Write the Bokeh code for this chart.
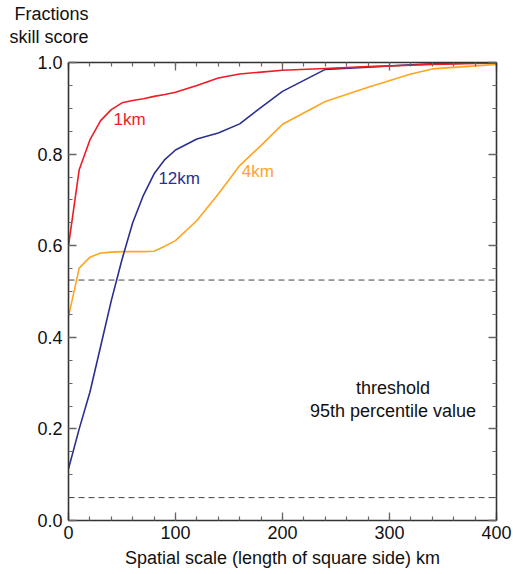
from bokeh.plotting import figure
from bokeh.models import Range1d, FixedTicker, LinearAxis, Label, Span, PrintfTickFormatter, Title
from bokeh.embed import file_html
from bokeh.resources import INLINE

# ---- data ----
scale_km = [0, 10, 20, 30, 40, 50, 60, 70, 80, 90, 100, 120, 140, 160, 180, 200, 240, 280, 320, 340, 400]
fss_1km = [0.600, 0.766, 0.831, 0.873, 0.897, 0.912, 0.917, 0.921, 0.926, 0.930, 0.935, 0.950, 0.966,
           0.975, 0.979, 0.983, 0.987, 0.991, 0.994, 0.996, 0.999]
fss_12km = [0.113, 0.200, 0.280, 0.380, 0.480, 0.570, 0.650, 0.710, 0.757, 0.788, 0.809, 0.833, 0.846,
            0.866, 0.902, 0.937, 0.985, 0.990, 0.995, 0.997, 1.000]
fss_4km = [0.445, 0.551, 0.575, 0.584, 0.586, 0.587, 0.587, 0.587, 0.588, 0.599, 0.611, 0.655, 0.713,
           0.775, 0.819, 0.865, 0.915, 0.946, 0.975, 0.986, 0.996]
fss_uniform = 0.525
fss_random = 0.05
x_major = [0, 100, 200, 300, 400]
x_minor = list(range(0, 401, 20))
y_major = [0.0, 0.2, 0.4, 0.6, 0.8, 1.0]
y_minor = [i * 0.05 for i in range(21)]

RED = "#ee1c25"
BLUE = "#2b2f8f"
ORANGE = "#ffa51f"
FONT = "Liberation Sans"

p = figure(width=513, height=574, output_backend="svg", toolbar_location=None, title=None,
           x_range=Range1d(0, 400), y_range=Range1d(0, 1))
p.min_border_left = 68
p.min_border_right = 17
p.min_border_top = 62
p.min_border_bottom = 54
p.xgrid.visible = False
p.ygrid.visible = False
p.outline_line_color = None
p.background_fill_color = "white"
p.border_fill_color = "white"

xt = FixedTicker(ticks=x_major, minor_ticks=x_minor)
yt = FixedTicker(ticks=y_major, minor_ticks=y_minor)

def style(ax, show_labels):
    ax.axis_line_color = "#333333"
    ax.axis_line_width = 1.6
    ax.major_tick_line_color = "#666666"
    ax.minor_tick_line_color = "#666666"
    ax.major_tick_line_width = 1.3
    ax.minor_tick_line_width = 1.2
    ax.major_tick_in = 8
    ax.major_tick_out = 0
    ax.minor_tick_in = 4
    ax.minor_tick_out = 0
    if show_labels:
        ax.major_label_text_font = FONT
        ax.major_label_text_font_size = "18px"
        ax.major_label_text_color = "#111111"
    else:
        ax.major_label_text_font_size = "0px"
        ax.major_label_text_color = None
        ax.major_label_standoff = 0

p.xaxis.ticker = xt
p.yaxis.ticker = yt
p.yaxis.formatter = PrintfTickFormatter(format="%.1f")
style(p.xaxis[0], True)
style(p.yaxis[0], True)
p.xaxis.major_label_standoff = 5
p.yaxis.major_label_standoff = 6
p.xaxis.axis_label = "Spatial scale (length of square side) km"
p.xaxis.axis_label_text_font = FONT
p.xaxis.axis_label_text_font_size = "18px"
p.xaxis.axis_label_text_font_style = "normal"
p.xaxis.axis_label_text_color = "#111111"
p.xaxis.axis_label_standoff = 6

top = LinearAxis(ticker=xt)
style(top, False)
p.add_layout(top, "above")
right = LinearAxis(ticker=yt)
style(right, False)
p.add_layout(right, "right")

# spacer between the frame and the y-axis title
p.add_layout(Title(text=" ", text_font_size="1px", standoff=12), "above")
# y-axis title, horizontal, right-aligned at the top-left (first added is nearest the frame)
for t in ("skill score", "Fractions"):
    p.add_layout(Title(text=t, align="right", offset=408,
                       text_font=FONT, text_font_size="18px", text_font_style="normal",
                       text_color="#111111", standoff=1), "above")

# reference lines
for yv in (fss_uniform, fss_random):
    p.add_layout(Span(location=yv, dimension="width", line_color="#444444",
                      line_width=1, line_dash="6 4"))

p.line(scale_km, fss_4km, line_color=ORANGE, line_width=1.6)
p.line(scale_km, fss_12km, line_color=BLUE, line_width=1.6)
p.line(scale_km, fss_1km, line_color=RED, line_width=1.6)

def lab(x, y, t, color="#111111", size="17px", align="left"):
    p.add_layout(Label(x=x, y=y, text=t, text_color=color, text_font=FONT,
                       text_font_size=size, text_align=align, text_baseline="alphabetic"))

lab(42, 0.876, "1km", RED)
lab(84, 0.746, "12km", BLUE)
lab(162, 0.762, "4km", ORANGE)
lab(303.3, 0.289, "threshold", size="18px", align="center")
lab(303.3, 0.240, "95th percentile value", size="18px", align="center")

open("out.html", "w").write(file_html(p, INLINE))
